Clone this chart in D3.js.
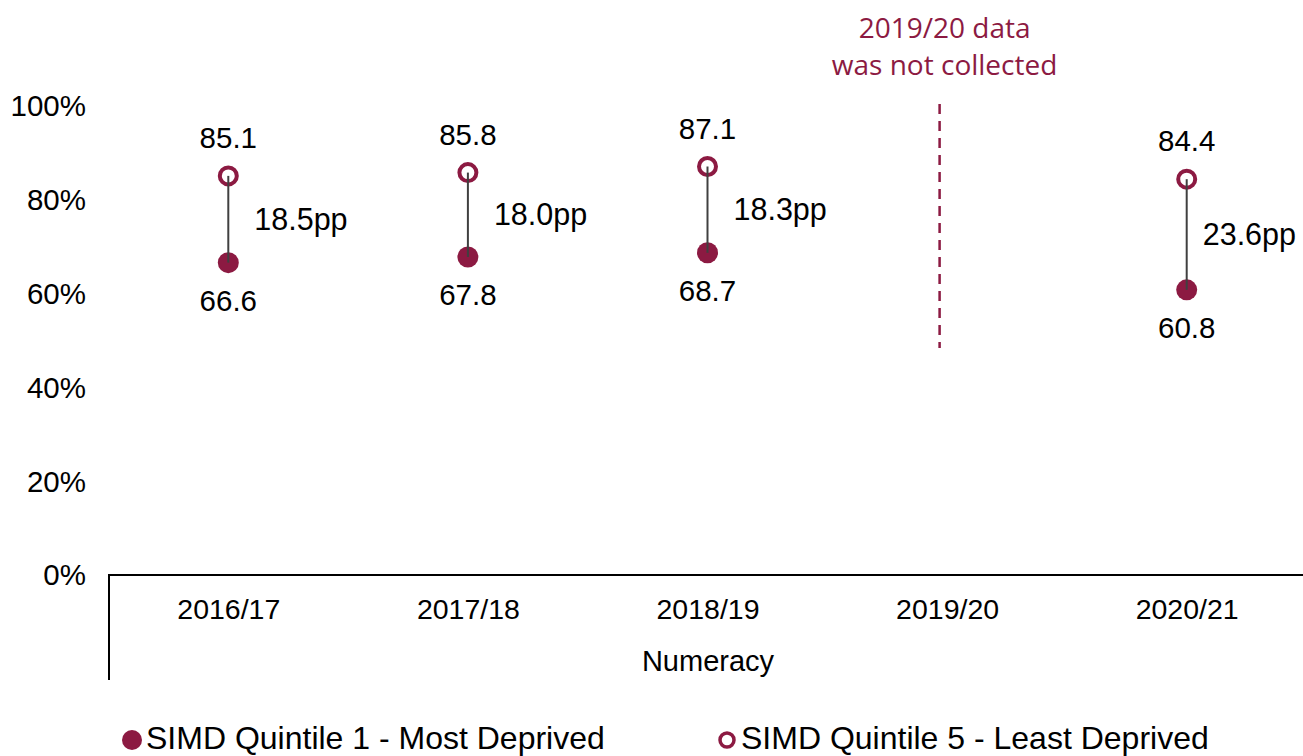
<!DOCTYPE html>
<html>
<head>
<meta charset="utf-8">
<script src="https://cdn.jsdelivr.net/npm/d3@7"></script>
<style>
  body { margin: 0; background: #fff; }
  svg { display: block; font-family: "Liberation Sans", Arial, sans-serif; }
</style>
</head>
<body>
<svg id="chart" width="1303" height="756"></svg>
<script>
const width = 1303;
const height = 756;
const MAROON = "#8c1a42";

// Data
const categories = ["2016/17", "2017/18", "2018/19", "2019/20", "2020/21"];
const quintile1 = [66.6, 67.8, 68.7, null, 60.8];
const quintile5 = [85.1, 85.8, 87.1, null, 84.4];
const gapLabels = ["18.5pp", "18.0pp", "18.3pp", null, "23.6pp"];
const yTicks = [0, 20, 40, 60, 80, 100];
const missingCategory = "2019/20";
const missingRange = [48.4, 100.4];
const missingNote = ["2019/20 data", "was not collected"];

const svg = d3.select("#chart");

const x = d3.scaleBand()
    .domain(categories)
    .range([108, 1306]);

const y = d3.scaleLinear()
    .domain([0, 100])
    .range([575, 106]);

// Y tick labels (no axis line)
svg.append("g")
    .selectAll("text")
    .data(yTicks)
    .join("text")
    .attr("x", 86)
    .attr("y", d => y(d))
    .attr("dy", "0.35em")
    .attr("text-anchor", "end")
    .attr("font-size", 29.5)
    .attr("fill", "#000")
    .text(d => d + "%");

// X axis line and left bracket
svg.append("line")
    .attr("x1", 108).attr("x2", 1303)
    .attr("y1", y(0)).attr("y2", y(0))
    .attr("stroke", "#000").attr("stroke-width", 2);
svg.append("line")
    .attr("x1", 109).attr("x2", 109)
    .attr("y1", y(0)).attr("y2", 680)
    .attr("stroke", "#000").attr("stroke-width", 2);

// Category labels
svg.append("g")
    .selectAll("text")
    .data(categories)
    .join("text")
    .attr("x", d => x(d) + x.bandwidth() / 2 + 1)
    .attr("y", 619)
    .attr("text-anchor", "middle")
    .attr("font-size", 28.5)
    .text(d => d);

svg.append("text")
    .attr("x", 708)
    .attr("y", 671)
    .attr("text-anchor", "middle")
    .attr("font-size", 29)
    .text("Numeracy");

// Missing year marker
const mx = x(missingCategory) + x.bandwidth() / 2 - 7;
svg.append("line")
    .attr("x1", mx).attr("x2", mx)
    .attr("y1", y(missingRange[1])).attr("y2", y(missingRange[0]))
    .attr("stroke", MAROON)
    .attr("stroke-width", 2.5)
    .attr("stroke-dasharray", "10,7");

svg.append("g")
    .selectAll("text")
    .data(missingNote)
    .join("text")
    .attr("x", mx + 5)
    .attr("y", (d, i) => 38 + i * 37)
    .attr("text-anchor", "middle")
    .attr("font-family", "'Open Sans', 'Noto Sans', sans-serif")
    .attr("font-size", 28)
    .attr("fill", MAROON)
    .text(d => d);

// Dumbbells
const rows = categories.map((c, i) => ({
    cat: c, lo: quintile1[i], hi: quintile5[i], gap: gapLabels[i]
})).filter(d => d.lo != null);

const cx = d => x(d.cat) + x.bandwidth() / 2 + 0.5;

const g = svg.append("g")
    .selectAll("g")
    .data(rows)
    .join("g")
    .attr("transform", d => `translate(${cx(d)},0)`);

g.append("circle")
    .attr("cy", d => y(d.lo))
    .attr("r", 10.5)
    .attr("fill", MAROON);

g.append("circle")
    .attr("cy", d => y(d.hi))
    .attr("r", 8.5)
    .attr("fill", "#fff")
    .attr("stroke", MAROON)
    .attr("stroke-width", 4);

// connector sits on top of the markers
g.append("line")
    .attr("y1", d => y(d.hi))
    .attr("y2", d => y(d.lo))
    .attr("stroke", "#404040")
    .attr("stroke-width", 2);

g.append("text")
    .attr("y", d => y(d.hi) - 28)
    .attr("text-anchor", "middle")
    .attr("font-size", 29.5)
    .text(d => d.hi.toFixed(1));

g.append("text")
    .attr("y", d => y(d.lo) + 48)
    .attr("text-anchor", "middle")
    .attr("font-size", 29.5)
    .text(d => d.lo.toFixed(1));

// gap label to the right of the connector, pulled in if it would run off the edge
g.append("text")
    .attr("y", d => (y(d.hi) + y(d.lo)) / 2)
    .attr("dy", "0.35em")
    .attr("font-size", 30.5)
    .text(d => d.gap)
    .attr("x", function(d) {
        const w = this.getComputedTextLength();
        return Math.min(26, width - 7 - w - cx(d));
    });

// Legend
const legend = [
    { label: "SIMD Quintile 1 - Most Deprived", filled: true, x: 132 },
    { label: "SIMD Quintile 5 - Least Deprived", filled: false, x: 727 }
];
const lg = svg.append("g")
    .selectAll("g")
    .data(legend)
    .join("g")
    .attr("transform", d => `translate(${d.x},740)`);

lg.append("circle")
    .attr("r", d => d.filled ? 10 : 7)
    .attr("fill", d => d.filled ? MAROON : "#fff")
    .attr("stroke", d => d.filled ? "none" : MAROON)
    .attr("stroke-width", 3.5);

lg.append("text")
    .attr("x", 14)
    .attr("y", 9)
    .attr("font-size", 32)
    .text(d => d.label);
</script>
</body>
</html>
